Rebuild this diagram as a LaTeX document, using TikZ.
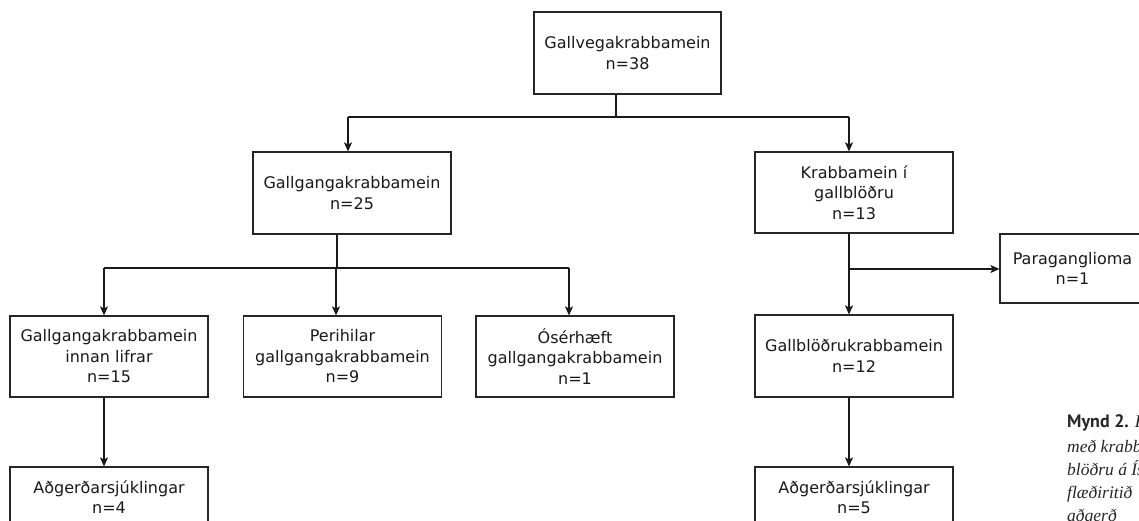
\documentclass[tikz,border=0pt]{standalone}
\usepackage{fontspec}
\setmainfont{DejaVu Sans}
\newfontfamily\capboldfont{PT Sans}
\newfontfamily\capitfont{Liberation Serif}
\usetikzlibrary{arrows.meta}
\begin{document}
\begin{tikzpicture}[x=1pt,y=-1pt,
  box/.style={draw=black!85, line width=1.2pt, align=center, inner sep=0pt,
    font=\fontsize{16}{20.5}\selectfont, text=black!90,
    minimum width=198pt, minimum height=81pt},
  arr/.style={draw=black!90, line width=1.1pt, -{Stealth[length=9pt,width=8pt,inset=2pt]}},
  ln/.style={draw=black!90, line width=1.1pt},
  capb/.style={anchor=base west, inner sep=0pt, font=\capboldfont\bfseries\fontsize{18}{20}\selectfont, text=black!85},
  capi/.style={anchor=base west, inner sep=0pt, font=\capitfont\itshape\fontsize{17.5}{20}\selectfont, text=black!85}]
\useasboundingbox (0,0) rectangle (1139,520);

% boxes
\node[box, minimum width=187pt, minimum height=82pt] (top) at (627.5,53) {Gallvegakrabbamein\\n=38};
\node[box, minimum height=82pt] (gg) at (352,193) {Gallgangakrabbamein\\n=25};
\node[box] (kg) at (854,192.5) {Krabbamein í\\gallblöðru\\n=13};
\node[box, minimum width=145pt, minimum height=69pt] (para) at (1072.5,268.5) {Paraganglioma\\n=1};
\node[box] (il) at (109,356.5) {Gallgangakrabbamein\\innan lifrar\\n=15};
\node[box] (peri) at (342.5,356.5) {Perihilar\\gallgangakrabbamein\\n=9};
\node[box] (oser) at (575,356.5) {Ósérhæft\\gallgangakrabbamein\\n=1};
\node[box, minimum height=82pt] (gbk) at (854,356) {Gallblöðrukrabbamein\\n=12};
\node[box, minimum height=60pt] (ag1) at (109,497) {Aðgerðarsjúklingar\\n=4};
\node[box, minimum height=60pt] (ag2) at (854,497) {Aðgerðarsjúklingar\\n=5};

% junction coordinates
\coordinate (j1) at (616,117);
\coordinate (j1l) at (348,117);
\coordinate (j1r) at (849,117);
\coordinate (j2) at (337,268);
\coordinate (j2l) at (104,268);
\coordinate (j2m) at (336,268);
\coordinate (j2r) at (569,268);
\coordinate (j3) at (849,269);

% connectors
\draw[ln] (j1 |- top.south) -- (j1);
\draw[ln] (j1l) -- (j1r);
\draw[arr] (j1l) -- (j1l |- gg.north);
\draw[arr] (j1r) -- (j1r |- kg.north);

\draw[ln] (j2 |- gg.south) -- (j2);
\draw[ln] (j2l) -- (j2r);
\draw[arr] (j2l) -- (j2l |- il.north);
\draw[arr] (j2m) -- (j2m |- peri.north);
\draw[arr] (j2r) -- (j2r |- oser.north);

\draw[arr] (j3 |- kg.south) -- (j3 |- gbk.north);
\draw[arr] (j3) -- (para.west |- j3);

\draw[arr] (j2l |- il.south) -- (j2l |- ag1.north);
\draw[arr] (j3 |- gbk.south) -- (j3 |- ag2.north);

% caption (cut off at the right edge, as in the reference)
\node[capb] (c1) at (1067,427) {Mynd 2. {\capitfont\itshape\mdseries F}};
\node[capi] (c2) at (1067,452) {með krabbamein};
\node[capi] (c3) at (1067,475) {blöðru á Íslandi};
\node[capi] (c4) at (1067,498) {flæðiritið};
\node[capi] (c5) at (1067,521) {aðgerð};
\end{tikzpicture}
\end{document}
